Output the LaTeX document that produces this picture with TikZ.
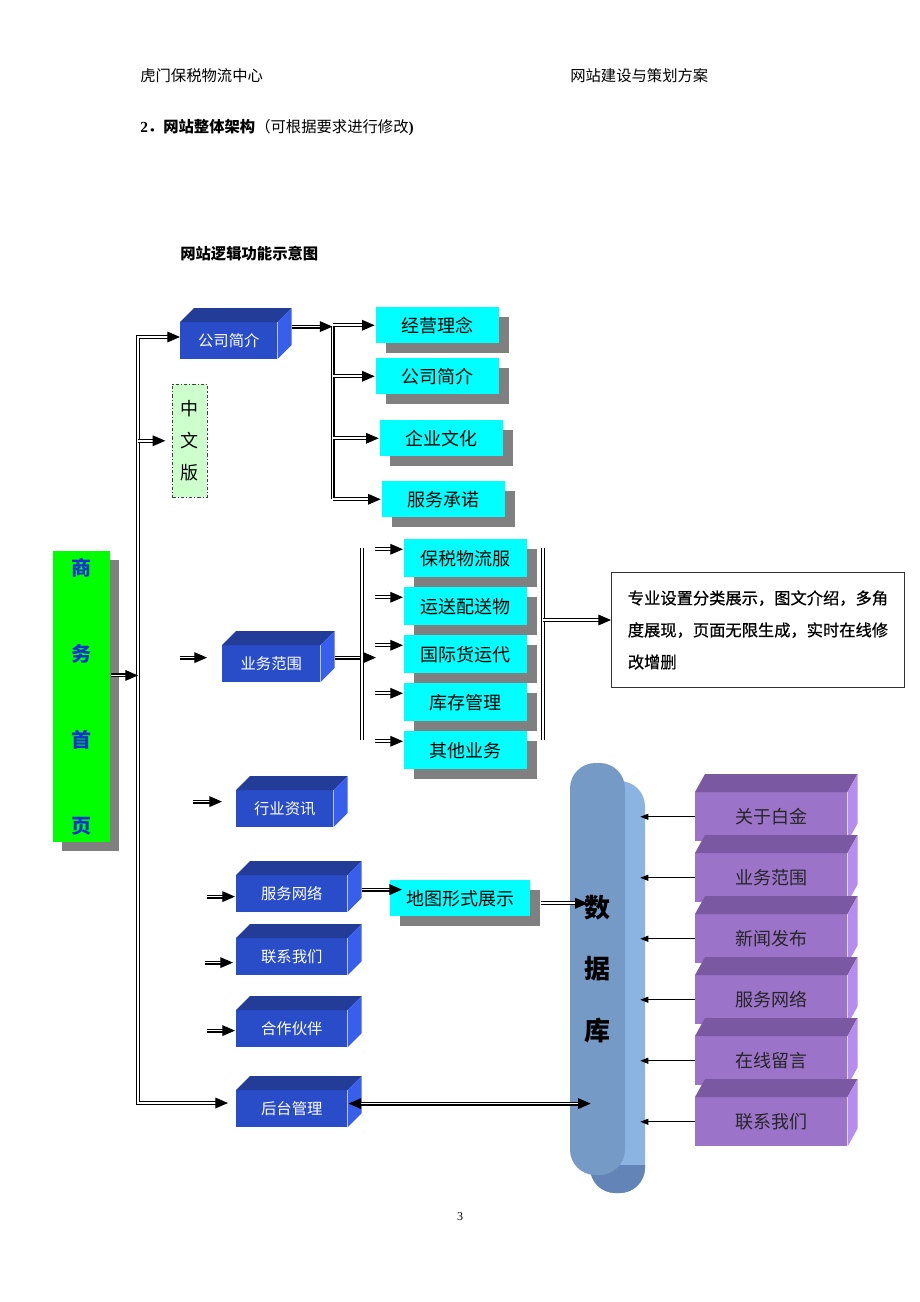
\documentclass[tikz,border=0pt]{standalone}
\usepackage{fontspec}
\setmainfont{Liberation Serif}
\newfontfamily\cjk{Noto Sans CJK SC}
\newfontfamily\cjkdark[FakeBold=0.6]{Noto Sans CJK SC}
\usetikzlibrary{arrows.meta,shadows,calc}

\definecolor{boxblue}{RGB}{41,76,201}
\definecolor{boxbluetop}{RGB}{34,60,152}
\definecolor{boxblueside}{RGB}{55,95,235}
\definecolor{boxcyan}{RGB}{0,255,255}
\definecolor{purplefront}{RGB}{155,115,200}
\definecolor{purpletop}{RGB}{122,88,162}
\definecolor{purpleside}{RGB}{182,140,236}
\definecolor{dbfront}{RGB}{117,154,198}
\definecolor{dbside}{RGB}{140,180,226}
\definecolor{dbdark}{RGB}{98,132,182}
\definecolor{shadowgray}{RGB}{128,128,128}
\definecolor{homegreen}{RGB}{0,255,0}
\definecolor{hometext}{RGB}{20,50,210}
\definecolor{cnfill}{RGB}{204,255,204}

% top and side faces of a block: node, dx, dy, top colour, side colour
\newcommand\boxfaces[5]{%
  \fill[#4] (#1.north west) -- ++(#2,-#3) -- ([shift={(#2,-#3)}]#1.north east) -- (#1.north east) -- cycle;
  \fill[#5] (#1.north east) -- ++(#2,-#3) -- ([shift={(#2,-#3)}]#1.south east) -- (#1.south east) -- cycle;
}

\tikzset{
  head/.style={inner sep=0pt, anchor=west, font=\cjk\fontsize{11.5}{14}\selectfont},
  dbl/.style={double=white, double distance=1.3pt, line width=0.85pt},
  tip/.style={Triangle[length=9.5pt,width=8pt]},
  arr/.style={dbl, -{Triangle[length=9.5pt,width=8pt]}},
  thinarr/.style={line width=0.8pt, -{Triangle[length=6pt,width=4.5pt]}},
  bluebox/.style={anchor=north west, inner sep=0pt, fill=boxblue, text=white,
    minimum width=#1, minimum height=27.5pt, font=\cjk\fontsize{11.5}{14}\selectfont},
  cyanbox/.style={anchor=north west, inner sep=0pt, fill=boxcyan, minimum width=92.25pt,
    minimum height=27pt, font=\cjk\fontsize{13.5}{16}\selectfont,
    drop shadow={shadow xshift=7.5pt, shadow yshift=-7.5pt, fill=shadowgray, opacity=1}},
  purplebox/.style={anchor=north west, inner sep=0pt, fill=purplefront, text=black!85,
    minimum width=114pt, minimum height=36.75pt, font=\cjk\fontsize{13.5}{16}\selectfont},
  homebox/.style={anchor=north west, inner sep=0pt, fill=homegreen, text=hometext,
    minimum width=42.75pt, minimum height=218.25pt, align=center,
    font=\cjk\bfseries\fontsize{15}{64.5}\selectfont,
    drop shadow={shadow xshift=6.5pt, shadow yshift=-6.5pt, fill=shadowgray, opacity=1}},
  cnbox/.style={anchor=north west, inner sep=0pt, fill=cnfill, draw=black!75,
    dash pattern=on 2.5pt off 1.5pt on 0.8pt off 1.5pt, minimum width=26.25pt,
    minimum height=84.75pt, align=center, font=\cjk\fontsize{13.5}{24}\selectfont},
  notebox/.style={anchor=north west, draw=black!80, line width=0.7pt, inner xsep=10.5pt,
    minimum width=219.75pt, minimum height=86.25pt, align=left,
    font=\cjkdark\fontsize{12.2}{24}\selectfont},
  dbbody/.style={fill=dbfront, rounded corners=19pt, minimum width=41.25pt,
    minimum height=309pt, align=center, font=\cjk\bfseries\fontsize{19.5}{46}\selectfont}
}

\begin{document}
\begin{tikzpicture}[x=0.75pt,y=-0.75pt]
\useasboundingbox (0,0) rectangle (920,1302);

% header
\node[head] (hdLeft) at (140,76) {虎门保税物流中心};
\node[head] (hdRight) at (570,76) {网站建设与策划方案};
\node[head] (title) at (140,128) {\bfseries{\rmfamily 2}．网站整体架构\mdseries（可根据要求进行修改{\rmfamily\bfseries )}};
\node[head] (caption) at (180,254) {\bfseries 网站逻辑功能示意图};

% left column
\node[homebox] (home) at (53,551) {商\\务\\首\\页};
\node[cnbox] (cn) at (172,384) {中\\文\\版};

% blue blocks
\node[bluebox=72.75pt] (intro) at (180,322) {公司简介};
\boxfaces{intro}{14}{14}{boxbluetop}{boxblueside}
\node[bluebox=73.5pt] (scope) at (222,645) {业务范围};
\boxfaces{scope}{14}{14}{boxbluetop}{boxblueside}
\node[bluebox=72.75pt] (news) at (236,790) {行业资讯};
\boxfaces{news}{14}{14}{boxbluetop}{boxblueside}
\node[bluebox=83.25pt] (net) at (236,875) {服务网络};
\boxfaces{net}{14}{14}{boxbluetop}{boxblueside}
\node[bluebox=83.25pt] (contact) at (236,938) {联系我们};
\boxfaces{contact}{14}{14}{boxbluetop}{boxblueside}
\node[bluebox=83.25pt] (partner) at (236,1010) {合作伙伴};
\boxfaces{partner}{14}{14}{boxbluetop}{boxblueside}
\node[bluebox=83.25pt] (admin) at (236,1090) {后台管理};
\boxfaces{admin}{14}{14}{boxbluetop}{boxblueside}

% cyan boxes
\node[cyanbox] (cIdea) at (376,307) {经营理念};
\node[cyanbox] (cIntro) at (376,358) {公司简介};
\node[cyanbox] (cCulture) at (380,420) {企业文化};
\node[cyanbox] (cPromise) at (382,481) {服务承诺};
\node[cyanbox, minimum height=28.5pt] (bLogis) at (404,539) {保税物流服};
\node[cyanbox, minimum height=28.5pt] (bTrans) at (404,587) {运送配送物};
\node[cyanbox, minimum height=28.5pt] (bFreight) at (404,635) {国际货运代};
\node[cyanbox, minimum height=28.5pt] (bStock) at (404,683) {库存管理};
\node[cyanbox, minimum height=28.5pt] (bOther) at (404,731) {其他业务};
\node[cyanbox, minimum width=105pt] (cMap) at (390,880) {地图形式展示};

\node[notebox] (txt) at (611,572) {专业设置分类展示，图文介绍，多角\\度展现，页面无限生成，实时在线修\\改增删};

% database
\fill[dbside, rounded corners=19pt] (590,781) rectangle (645,1193);
\begin{scope}
  \clip (560,1165) rectangle (660,1200);
  \fill[dbdark, rounded corners=19pt] (590,781) rectangle (645,1193);
\end{scope}
\node[dbbody] (db) at (597.5,969) {数\\据\\库};
\coordinate (dbEdge) at ([xshift=11.25pt]db.east);

% purple blocks
\foreach \nm/\lbl [count=\i from 0] in {pAbout/关于白金, pScope/业务范围, pNews/新闻发布,
    pNet/服务网络, pMsg/在线留言, pContact/联系我们} {
  \node[purplebox] (\nm) at (695,{792+61*\i}) {\lbl};
  \boxfaces{\nm}{10}{18}{purpletop}{purpleside}
  \draw[thinarr] (\nm.west) -- (\nm.west -| dbEdge);
}

% trunk
\coordinate (trunkTop) at (138,337);
\coordinate (trunkBot) at (138,1103);
\draw[dbl, {Triangle[length=9.5pt,width=8pt]}-{Triangle[length=9.5pt,width=8pt]}, shorten <=6pt]
  (trunkBot -| admin.west) -- (trunkBot) -- (trunkTop) -- (trunkTop -| intro.west);
\draw[arr] ([yshift=16pt]home.east) -- ([yshift=16pt]home.east -| trunkTop);
\draw[arr, shorten >=5pt] (cn.west -| trunkTop) -- (cn.west);

% intro branch
\coordinate (brTop) at ([shift={(55,-14)}]intro.east);
\draw[arr] ([shift={(14,-14)}]intro.east) -- (brTop);
\draw[dbl] (brTop) -- (brTop |- cPromise.west);
\foreach \nm in {cIdea,cIntro,cCulture,cPromise}
  \draw[arr, shorten >=1pt] (\nm.west -| brTop) -- (\nm.west);

% business branch
\coordinate (bizL) at (362,548);
\coordinate (bizLb) at (362,740);
\coordinate (bizR) at (543,548);
\coordinate (bizRb) at (543,740);
\coordinate (bizOut) at ($(bizR)!0.375!(bizRb)$);
\draw[arr] ([shift={(-42,-6)}]scope.west) -- ([shift={(-15,-6)}]scope.west);
\draw[arr] ([shift={(14,-6)}]scope.east) -- ([shift={(14,-6)}]scope.east -| bizL);
\draw[dbl] (bizL) -- (bizLb);
\draw[dbl] (bizR) -- (bizRb);
\foreach \nm in {bLogis,bTrans,bFreight,bStock,bOther}
  \draw[arr] ([shift={(-29,-9)}]\nm.west) -- ([shift={(-1,-9)}]\nm.west);
\draw[arr] (bizOut) -- (bizOut -| txt.west);

% remaining blocks
\draw[arr] ([shift={(-43,-7)}]news.west) -- ([shift={(-14,-7)}]news.west);
\draw[arr] ([shift={(-29,3)}]net.west) -- ([shift={(-1,3)}]net.west);
\draw[arr] ([shift={(-31,6)}]contact.west) -- ([shift={(-3,6)}]contact.west);
\draw[arr] ([shift={(-29,2)}]partner.west) -- ([shift={(-1,2)}]partner.west);
\draw[arr, shorten >=1.5pt] ([shift={(14,-4)}]net.east) -- ([shift={(14,-4)}]net.east -| cMap.west);
\draw[arr, shorten >=-6pt] ([shift={(10,5)}]cMap.east) -- ([shift={(10,5)}]cMap.east -| db.west);
\draw[dbl, {Triangle[length=9.5pt,width=8pt]}-{Triangle[length=9.5pt,width=8pt]}, shorten >=-15pt]
  ([shift={(1,-5)}]admin.east) -- ([shift={(1,-5)}]admin.east -| db.west);

\node (pageNo) at (460,1217) {\fontsize{9}{11}\selectfont 3};
\end{tikzpicture}
\end{document}
